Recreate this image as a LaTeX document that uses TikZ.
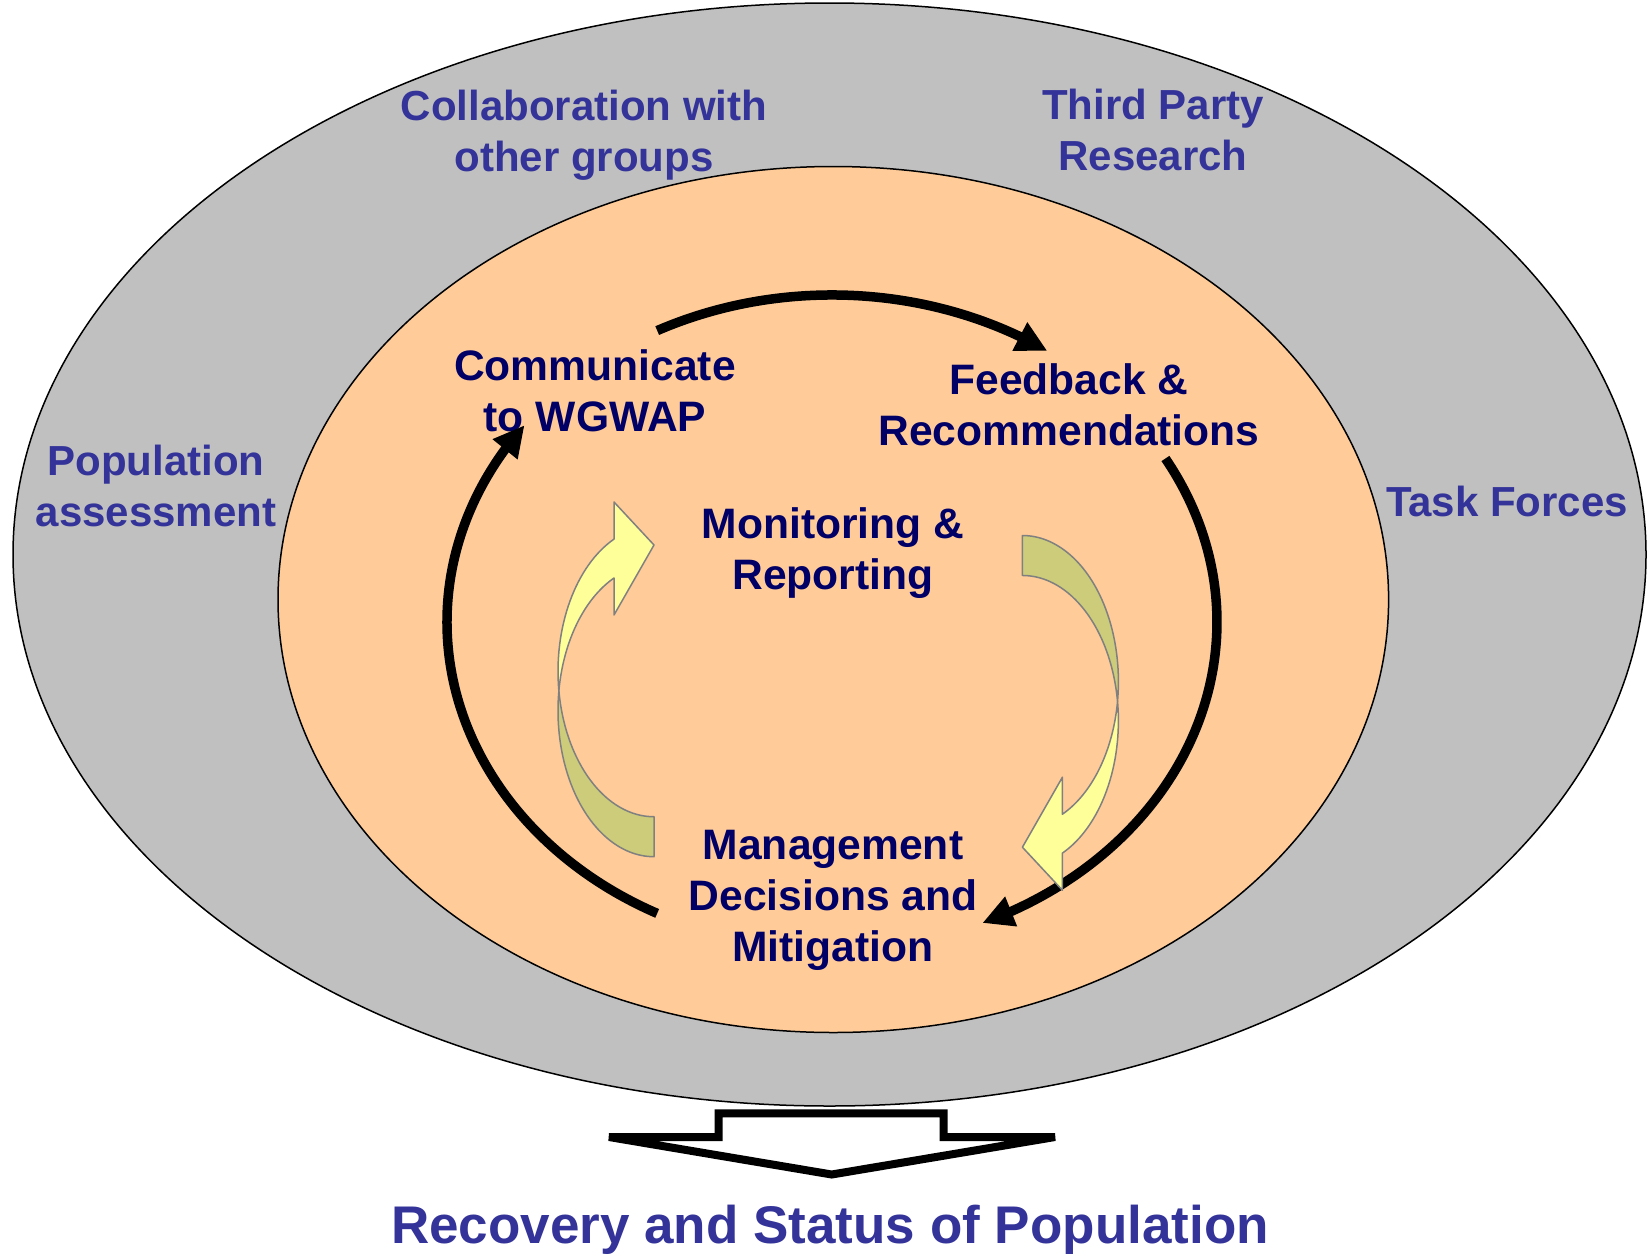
\documentclass[tikz,border=0pt]{standalone}
\usepackage{fontspec}
\setmainfont{Liberation Sans}
\usetikzlibrary{arrows.meta,bending}
\definecolor{outerfill}{HTML}{C0C0C0}
\definecolor{innerfill}{HTML}{FFCC99}
\definecolor{outertext}{HTML}{333399}
\definecolor{innertext}{HTML}{000066}
\definecolor{yelo}{HTML}{FFFF99}
\definecolor{olivefill}{HTML}{CCCC7A}
\definecolor{arrowedge}{HTML}{808080}
\tikzset{
  outerlabel/.style={text=outertext, font=\fontsize{42}{51}\selectfont\bfseries, align=center, inner sep=0pt},
  innerlabel/.style={text=innertext, font=\fontsize{42.6}{51}\selectfont\bfseries, align=center, inner sep=0pt},
  cyclearrow/.style={line width=9.5pt, -{Triangle[length=31pt,width=30pt]}},
  curvededge/.style={draw=arrowedge, line width=1.5pt, line join=round},
  curvedarrow/.pic={
    \filldraw[curvededge, fill=olivefill] (654,856.7)
      arc[start angle=90, end angle=187.8, x radius=96, y radius=146]
      arc[start angle=172.2, end angle=90, x radius=96, y radius=145.6] -- cycle;
    \filldraw[curvededge, fill=yelo] (558.9,691.2)
      arc[start angle=172.2, end angle=245.4, x radius=96, y radius=145.6]
      -- (614,502) -- (654,545) -- (614,615) -- (614,578)
      arc[start angle=245.4, end angle=187.8, x radius=96, y radius=146] -- cycle;
  }
}
\begin{document}
\begin{tikzpicture}[x=1pt,y=-1pt]
\useasboundingbox (0,0) rectangle (1652,1256);
\fill[white] (0,0) rectangle (1652,1256);
% ellipses
\draw[fill=outerfill, line width=1.5pt] (829.5,554.5) ellipse [x radius=816.5, y radius=551.5];
\draw[fill=innerfill, line width=1.5pt] (833.3,599.5) ellipse [x radius=555.3, y radius=433];
% outer labels
\node[outerlabel] (collab) at (584,135) {Collaboration with\\other groups};
\node[outerlabel] (third) at (1153,130) {Third Party\\Research};
\node[outerlabel] (popass) at (156,486) {Population\\assessment};
\node[outerlabel] (task) at (1507,501) {Task Forces};
% inner labels
\node[innerlabel] (comm) at (595,391) {Communicate\\to WGWAP};
\node[innerlabel] (feed) at (1069,405) {Feedback \&\\Recommendations};
\node[innerlabel] (monit) at (833,553) {Monitoring \&\\Reporting};
\node[innerlabel] (manage) at (833,900) {Management\\Decisions and\\Mitigation};
% cycle arrows
\coordinate (topstart) at (657.2,330.6);
\coordinate (rightstart) at (1165.4,458.5);
\coordinate (leftstart) at (657.2,913.4);
\draw[cyclearrow] (topstart) arc[start angle=-117, end angle=-56, x radius=385, y radius=327];
\draw[cyclearrow] (rightstart) arc[start angle=-30, end angle=67, x radius=385, y radius=327];
\draw[cyclearrow] (leftstart) arc[start angle=117, end angle=217, x radius=385, y radius=327];
% curved yellow arrows
\pic at (0,0) {curvedarrow};
\pic[rotate around={180:(838.2,696.1)}] at (0,0) {curvedarrow};
% bottom block arrow
\draw[line width=8pt, fill=white] (609,1137) -- (718.7,1137) -- (718.7,1113.3) -- (943.7,1113.3)
  -- (943.7,1137) -- (1055,1137) -- (831.7,1174.5) -- cycle;
\node[text=outertext, font=\fontsize{53}{64}\selectfont\bfseries, inner sep=0pt] (recovery) at (830,1230) {Recovery and Status of Population};
\end{tikzpicture}
\end{document}
